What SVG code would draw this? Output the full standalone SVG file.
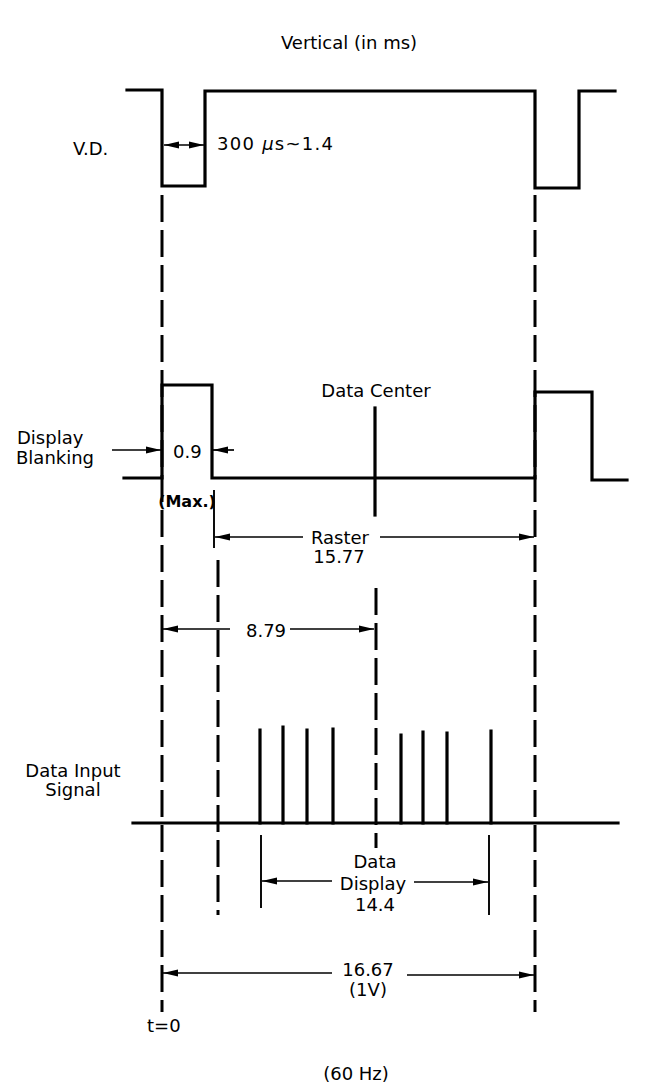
<svg xmlns="http://www.w3.org/2000/svg" width="647" height="1092" viewBox="0 0 647 1092">
<style>
text{font-family:"DejaVu Sans","Liberation Sans",sans-serif;font-size:18px;fill:#000}
.w{fill:none;stroke:#000;stroke-width:3.2;stroke-linejoin:miter;stroke-linecap:square}
.d{fill:none;stroke:#000;stroke-width:3;stroke-dasharray:27 8}
.a{fill:none;stroke:#000;stroke-width:1.7}
.t{stroke:#000;stroke-width:1.9}
.m{text-anchor:middle}
.b{font-weight:bold;font-size:16px}
</style>
<defs>
<marker id="ah" viewBox="0 0 15 8" refX="15" refY="4" markerWidth="15" markerHeight="8" markerUnits="userSpaceOnUse" orient="auto-start-reverse">
<path d="M0,0.5 L15,4 L0,7.5 z" fill="#000"/>
</marker>
</defs>
<rect width="647" height="1092" fill="#fff"/>
<g id="title"><text class="m" x="349" y="49">Vertical (in ms)</text></g>
<g id="vd">
<text x="73" y="155">V.D.</text>
<path class="w" d="M127,90 H162 V186 H205 V91 H535 V188 H579 V91 H615"/>
</g>
<g id="blanking">
<text x="17" y="444">Display</text>
<text x="16" y="464">Blanking</text>
<path class="w" d="M124,478 H162 V385 H212 V478 H535 V392 H592 V480 H627"/>
<text x="173" y="458">0.9</text>
<text class="m b" x="187" y="507">(Max.)</text>
</g>
<g id="data-center">
<text class="m" x="376" y="397">Data Center</text>
<line class="w" x1="375" y1="408" x2="375" y2="515"/>
</g>
<g id="data-input">
<text class="m" x="73" y="777">Data Input</text>
<text class="m" x="73" y="796">Signal</text>
<path class="w" d="M133,823 H618"/>
<path class="w" d="M260,823 V730 M283,823 V727 M307,823 V730 M333,823 V729 M401,823 V735 M423,823 V732 M447,823 V733 M491,823 V731"/>
</g>
<g id="guides">
<line class="d" x1="162" y1="195" x2="162" y2="1012"/>
<line class="d" x1="535" y1="195" x2="535" y2="1012"/>
<line class="d" x1="218" y1="560" x2="218" y2="915"/>
<line class="d" x1="376" y1="588" x2="376" y2="848"/>
</g>
<g id="connectors">
<line class="a" x1="164" y1="145" x2="204" y2="145" marker-start="url(#ah)" marker-end="url(#ah)"/>
<text x="217" y="150" textLength="116">300 <tspan font-style="italic">μ</tspan>s~1.4</text>
<line class="a" x1="112" y1="450" x2="161" y2="450" marker-end="url(#ah)"/>
<line class="a" x1="234" y1="450" x2="213" y2="450" marker-end="url(#ah)"/>
<line class="t" x1="214" y1="490" x2="214" y2="548"/>
<line class="a" x1="303" y1="537" x2="215" y2="537" marker-end="url(#ah)"/>
<line class="a" x1="380" y1="537" x2="534" y2="537" marker-end="url(#ah)"/>
<text class="m" x="340" y="544">Raster</text>
<text class="m" x="339" y="563">15.77</text>
<line class="a" x1="230" y1="629" x2="163" y2="629" marker-end="url(#ah)"/>
<line class="a" x1="290" y1="629" x2="374" y2="629" marker-end="url(#ah)"/>
<text class="m" x="266" y="637">8.79</text>
<line class="t" x1="261" y1="835" x2="261" y2="908"/>
<line class="t" x1="489" y1="835" x2="489" y2="915"/>
<line class="a" x1="332" y1="881" x2="262" y2="881" marker-end="url(#ah)"/>
<line class="a" x1="414" y1="882" x2="488" y2="882" marker-end="url(#ah)"/>
<text class="m" x="375" y="868">Data</text>
<text class="m" x="373" y="890">Display</text>
<text class="m" x="375" y="911">14.4</text>
<line class="a" x1="332" y1="973" x2="163" y2="973" marker-end="url(#ah)"/>
<line class="a" x1="407" y1="975" x2="534" y2="975" marker-end="url(#ah)"/>
<text class="m" x="368" y="976">16.67</text>
<text class="m" x="368" y="996">(1V)</text>
<text x="147" y="1032">t=0</text>
<text class="m" x="356" y="1080">(60 Hz)</text>
</g>
</svg>
